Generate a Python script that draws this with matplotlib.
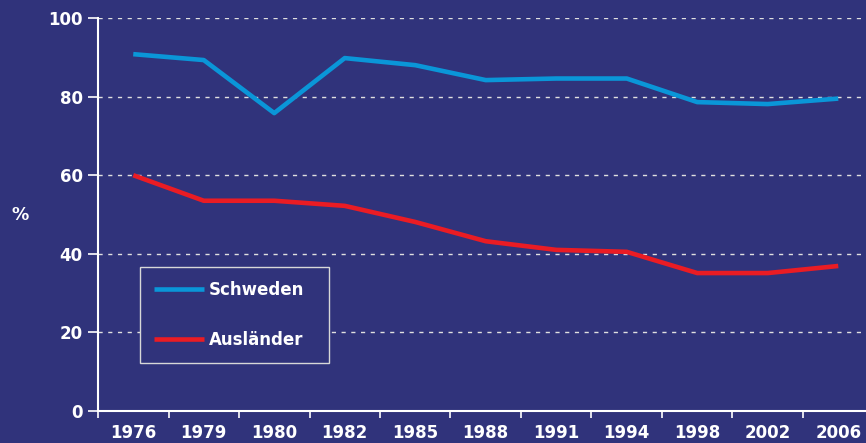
import numpy as np
import matplotlib
matplotlib.use("Agg")
import matplotlib.pyplot as plt

years = ["1976", "1979", "1980", "1982", "1985", "1988", "1991", "1994", "1998", "2002", "2006"]
schweden = [90.8, 89.3, 75.8, 89.8, 88.0, 84.2, 84.6, 84.6, 78.6, 78.1, 79.5]
auslaender = [60.0, 53.5, 53.5, 52.2, 48.1, 43.2, 41.0, 40.5, 35.1, 35.1, 36.9]

bg = "#30337b"
fig = plt.figure(figsize=(8.66, 4.43), dpi=100, facecolor=bg)
# axes reaches a bit past the right edge, like the original slide
ax = fig.add_axes([98 / 866, (443 - 411) / 443, 775.5 / 866, 393 / 443])
ax.set_facecolor(bg)

x = np.arange(len(years))
ax.plot(x, schweden, color="#0a96d8", lw=3.3, label="Schweden", solid_capstyle="butt")
ax.plot(x, auslaender, color="#ea1c24", lw=3.3, label="Ausländer", solid_capstyle="butt")

ax.set_xlim(-0.5, len(years) - 0.5)
ax.set_ylim(0, 100)
ax.set_yticks(range(0, 101, 20))
ax.yaxis.grid(True, color="#e0e0e0", ls=(0, (3, 4)), lw=1)
ax.set_axisbelow(True)

ax.set_xticks(x)
ax.set_xticklabels(years)
ax.set_xticks(np.arange(-0.5, len(years)), minor=True)
ax.tick_params(axis="x", which="major", length=0, pad=9)
ax.tick_params(axis="x", which="minor", length=5, width=1.2, color="white", direction="out")
ax.tick_params(axis="y", length=7, width=1.2, color="white", pad=4)

for lab in ax.get_xticklabels() + ax.get_yticklabels():
    lab.set_color("white")
    lab.set_fontweight("bold")
    lab.set_fontsize(12)

for side in ["top", "right"]:
    ax.spines[side].set_visible(False)
for side in ["left", "bottom"]:
    ax.spines[side].set_color("white")
    ax.spines[side].set_linewidth(1.5)

fig.text(20 / 866, 1 - 215 / 443, "%", color="white", fontweight="bold", fontsize=12.5,
         ha="center", va="center")

leg = ax.legend(loc="lower left", bbox_to_anchor=(42 / 775.5, 48 / 393, 189 / 775.5, 98 / 393),
                mode="expand", frameon=True, fancybox=False, borderaxespad=0,
                labelspacing=1.9, handlelength=3.0, borderpad=0.85, handletextpad=0.3,
                prop={"weight": "bold", "size": 12})
leg.get_frame().set_facecolor(bg)
leg.get_frame().set_edgecolor("#d8d8d8")
leg.get_frame().set_linewidth(1)
leg.get_frame().set_alpha(1)
for t in leg.get_texts():
    t.set_color("white")

fig.savefig("out.png", dpi=100, facecolor=bg)
